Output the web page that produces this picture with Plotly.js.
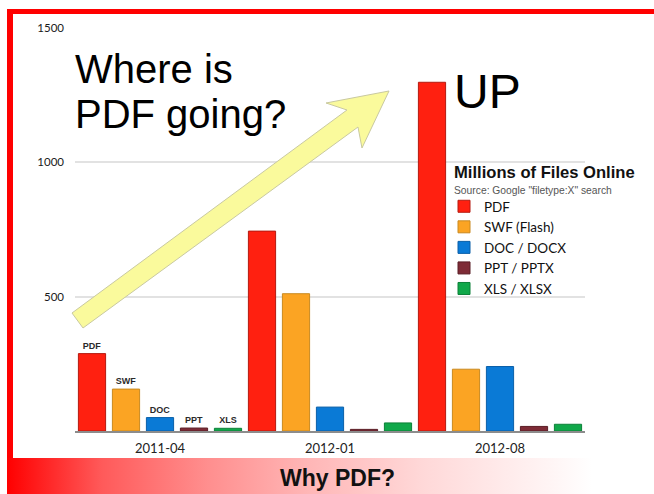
<!DOCTYPE html>
<html>
<head>
<meta charset="utf-8">
<script src="https://cdn.plot.ly/plotly-3.0.1.min.js"></script>
<style>
  html, body { margin: 0; padding: 0; background: #ffffff; }
  #wrap { position: relative; width: 654px; height: 494px; overflow: hidden; background: #ffffff; }
  #frameTop { position: absolute; left: 7px; top: 9px; width: 647px; height: 5px; background: #ff0000; }
  #frameLeft { position: absolute; left: 7px; top: 9px; width: 6px; height: 485px; background: #ff0000; }
  #banner { position: absolute; left: 7px; top: 458px; width: 647px; height: 36px;
    background: linear-gradient(to right, #ff0000 0px, #ff5a5a 95px, #ff8e8e 200px, #ffb6b6 300px, #ffd8d8 415px, #fff4f4 540px, #ffffff 585px); }
  #chart { position: absolute; left: 0; top: 0; width: 654px; height: 494px; }
</style>
</head>
<body>
<div id="wrap">
  <div id="frameTop"></div>
  <div id="frameLeft"></div>
  <div id="banner"></div>
  <div id="chart"></div>
</div>
<script>
// ---- data (millions of files online) ----
const periods = ["2011-04", "2012-01", "2012-08"];
const pdfValues = [288, 744, 1298];
const swfValues = [156, 511, 230];
const docValues = [50, 89, 240];
const pptValues = [11, 6, 17];
const xlsValues = [10, 30, 25];
const seriesNames = ["PDF", "SWF (Flash)", "DOC / DOCX", "PPT / PPTX", "XLS / XLSX"];
const barLabels = ["PDF", "SWF", "DOC", "PPT", "XLS"];
const yTickValues = [500, 1000, 1500];

const colors = ["#ff2010", "#fba423", "#0a7ad6", "#7e2b36", "#10a84a"];
const edges = ["#b51a10", "#c98a20", "#0a5fa8", "#5a1e26", "#0c8038"];
const allValues = [pdfValues, swfValues, docValues, pptValues, xlsValues];

const traces = allValues.map((vals, i) => ({
  type: "bar",
  name: seriesNames[i],
  x: periods,
  y: vals,
  text: periods.map((p, j) => (j === 0 ? barLabels[i] : "")),
  textposition: "outside",
  constraintext: "none",
  cliponaxis: false,
  textfont: { family: "Liberation Sans, Arial, sans-serif", size: 9, color: "#2a2a2a", weight: "bold" },
  marker: { color: colors[i], line: { color: edges[i], width: 1 } },
  hoverinfo: "x+y+name"
}));

// helpers to convert frame pixel -> paper coords (plot area 75..585 x, 28..431 y)
const PX = (px) => (px - 75) / 510;
const PY = (py) => (431 - py) / 403;

const arrowPts = [[72, 313], [347, 110], [326, 103], [389, 91], [362, 148], [358, 127], [83, 328]];
const arrowPath = "M " + arrowPts.map(p => PX(p[0]).toFixed(4) + "," + PY(p[1]).toFixed(4)).join(" L ") + " Z";

const layout = {
  width: 654,
  height: 494,
  margin: { l: 75, r: 69, t: 28, b: 63 },
  paper_bgcolor: "rgba(0,0,0,0)",
  plot_bgcolor: "rgba(0,0,0,0)",
  barmode: "group",
  bargap: 0,
  bargroupgap: 0.2,
  showlegend: true,
  legend: {
    x: PX(444), y: PY(191), xanchor: "left", yanchor: "top",
    bgcolor: "rgba(0,0,0,0)",
    font: { family: "Lato, sans-serif", size: 13.5, color: "#111111" },
    tracegroupgap: 0
  },
  xaxis: {
    type: "category",
    showline: true, linecolor: "#8c8c8c", linewidth: 1.5,
    showgrid: false, ticks: "", zeroline: false,
    tickfont: { family: "Lato, sans-serif", size: 13, color: "#222222" },
    ticklabelstandoff: 5,
    fixedrange: true
  },
  yaxis: {
    range: [0, 1500],
    tickvals: yTickValues,
    ticktext: yTickValues.map(String),
    showgrid: true, gridcolor: "#e2e2e2", gridwidth: 1.5,
    zeroline: false, showline: false, ticks: "",
    tickfont: { family: "Lato, sans-serif", size: 11.5, color: "#1a1a1a" },
    ticklabelstandoff: 10,
    fixedrange: true
  },
  shapes: [
    {
      type: "path", xref: "paper", yref: "paper", layer: "above",
      path: arrowPath,
      fillcolor: "#fafa9c",
      line: { color: "#c9c9a0", width: 1 }
    }
  ],
  annotations: [
    { text: "Where is", xref: "paper", yref: "paper", x: PX(73), y: PY(69), xanchor: "left", yanchor: "middle",
      showarrow: false, font: { family: "Liberation Sans, Arial, sans-serif", size: 40, color: "#000000" } },
    { text: "PDF going?", xref: "paper", yref: "paper", x: PX(73), y: PY(114), xanchor: "left", yanchor: "middle",
      showarrow: false, font: { family: "Liberation Sans, Arial, sans-serif", size: 40, color: "#000000" } },
    { text: "UP", xref: "paper", yref: "paper", x: PX(452), y: PY(91), xanchor: "left", yanchor: "middle",
      showarrow: false, font: { family: "Liberation Sans, Arial, sans-serif", size: 48, color: "#000000" } },
    { text: "<b>Millions of Files Online</b>", xref: "paper", yref: "paper", x: PX(452), y: PY(173), xanchor: "left", yanchor: "middle",
      showarrow: false, font: { family: "Liberation Sans, Arial, sans-serif", size: 16.6, color: "#111111" } },
    { text: "Source: Google \"filetype:X\" search", xref: "paper", yref: "paper", x: PX(452), y: PY(190), xanchor: "left", yanchor: "middle",
      showarrow: false, font: { family: "Liberation Sans, Arial, sans-serif", size: 10.3, color: "#555555" } },
    { text: "<b>Why PDF?</b>", xref: "paper", yref: "paper", x: PX(337), y: PY(478), xanchor: "center", yanchor: "middle",
      showarrow: false, font: { family: "Liberation Sans, Arial, sans-serif", size: 23, color: "#111111" } }
  ]
};

Plotly.newPlot("chart", traces, layout, { displayModeBar: false, staticPlot: false });
</script>
</body>
</html>
